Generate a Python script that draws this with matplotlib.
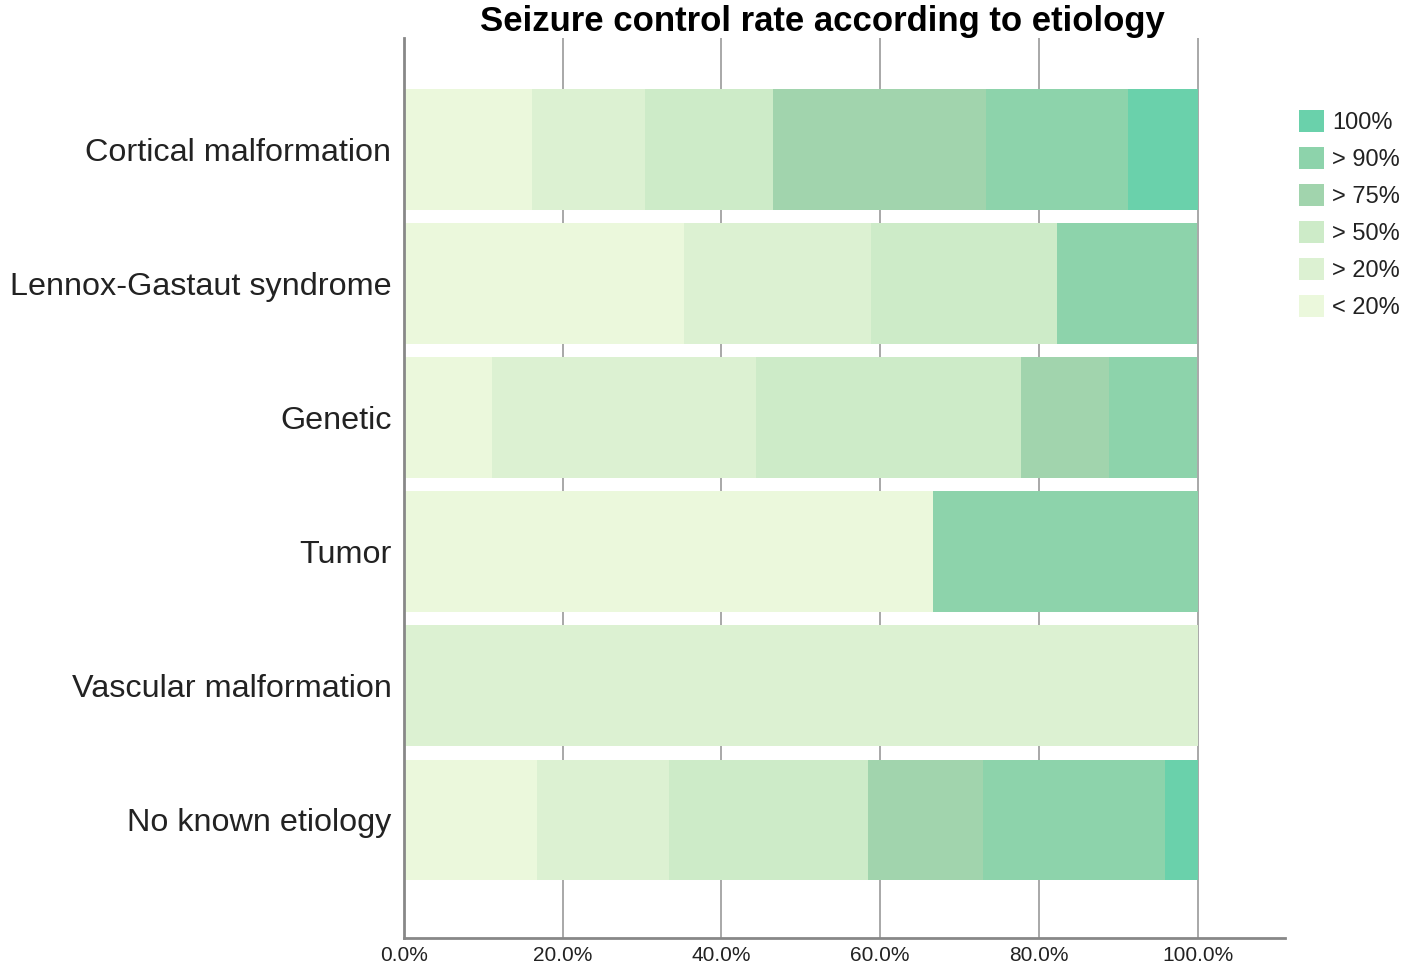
#%% Imports
import matplotlib
matplotlib.use('Agg')
import matplotlib.pyplot as plt
from matplotlib.patches import Patch
from matplotlib.ticker import FuncFormatter

#%% Data
etiologies = ['Cortical malformation', 'Lennox-Gastaut syndrome', 'Genetic', 'Tumor',
              'Vascular malformation', 'No known etiology']
categories = ['< 20%', '> 20%', '> 50%', '> 75%', '> 90%', '100%']
# percentage of patients per response category, one list per etiology
lt20 = [16.1, 35.3, 11.1, 66.7, 0.0, 16.7]
gt20 = [14.3, 23.5, 33.3, 0.0, 100.0, 16.7]
gt50 = [16.1, 23.5, 33.3, 0.0, 0.0, 25.0]
gt75 = [26.8, 0.0, 11.1, 0.0, 0.0, 14.6]
gt90 = [17.9, 17.6, 11.1, 33.3, 0.0, 22.9]
full = [8.9, 0.0, 0.0, 0.0, 0.0, 4.2]
series = [lt20, gt20, gt50, gt75, gt90, full]
colors = ['#EBF8DC', '#DCF1D2', '#CDEBC8', '#A1D4AD', '#8DD3AB', '#6AD1AB']

#%% Plot
plt.rcParams['font.family'] = ['Liberation Sans', 'DejaVu Sans']
fig = plt.figure(figsize=(14.06, 9.68), dpi=100)
ax = fig.add_axes([404/1406, 30/968, (1285-404)/1406, (938-38)/968])

ypos = list(range(len(etiologies)))
left = [0.0] * len(etiologies)
for vals, col in zip(series, colors):
    ax.barh(ypos, vals, left=left, height=0.9, color=col, edgecolor='none', zorder=2)
    left = [l + v for l, v in zip(left, vals)]

ax.set_xlim(0, 111)
ax.set_ylim(len(etiologies) - 0.12, -0.83)
ax.set_xticks([0, 20, 40, 60, 80, 100])
ax.xaxis.set_major_formatter(FuncFormatter(lambda v, p: '%.1f%%' % v))
ax.grid(axis='x', color='#999999', linewidth=1.2, zorder=1)
ax.set_yticks(ypos)
ax.set_yticklabels(etiologies, fontsize=23.3, color='#222222')
ax.tick_params(axis='x', labelsize=15, length=0, pad=6, labelcolor='#222222')
ax.tick_params(axis='y', length=0, pad=9)
for s in ['top', 'right']:
    ax.spines[s].set_visible(False)
for s in ['left', 'bottom']:
    ax.spines[s].set_color('#888888')
    ax.spines[s].set_linewidth(2)

ax.set_title('Seizure control rate according to etiology', fontsize=25, fontweight='bold', pad=0,
             x=0.4745, y=1.008)

handles = [Patch(facecolor=c, edgecolor='none', label=l) for c, l in zip(colors, categories)]
fig.legend(handles=handles[::-1], loc='upper left', bbox_to_anchor=(1290/1406, 1 - 101/968),
           frameon=False, handlelength=1.05, handleheight=1.05, handletextpad=0.35,
           labelspacing=0.55, borderaxespad=0, prop={'size': 17}, labelcolor='#222222')

fig.savefig('out.png', dpi=100)
